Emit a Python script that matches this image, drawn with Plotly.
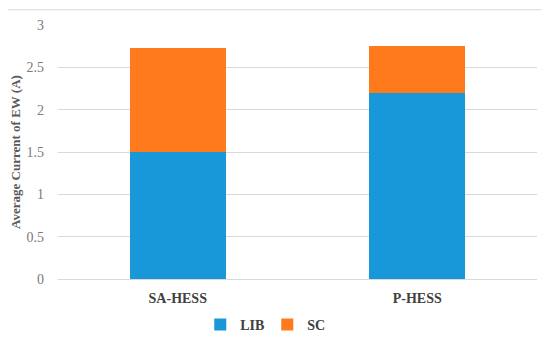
import plotly.graph_objects as go

categories = ["SA-HESS", "P-HESS"]
lib_values = [1.5, 2.2]
sc_values = [1.23, 0.55]
y_ticks = [0, 0.5, 1, 1.5, 2, 2.5, 3]
y_tick_labels = ["0", "0.5", "1", "1.5", "2", "2.5", "3"]

font_family = "Liberation Serif"

fig = go.Figure()
fig.add_trace(go.Bar(name="<b>LIB</b>", x=categories, y=lib_values,
                     marker=dict(color="#1897d9", line=dict(width=0))))
fig.add_trace(go.Bar(name="<b>SC</b>", x=categories, y=sc_values,
                     marker=dict(color="#ff7a1c", line=dict(width=0))))

fig.update_layout(
    barmode="stack",
    bargap=0.6,
    width=542, height=329,
    margin=dict(l=50, r=13, t=17, b=58, autoexpand=False),
    paper_bgcolor="white", plot_bgcolor="white",
    font=dict(family=font_family, color="#595959"),
    showlegend=True,
    legend=dict(orientation="h", xref="paper", x=0.297, xanchor="left",
                yref="paper", y=-0.181, yanchor="middle",
                font=dict(size=14, color="#404040", family=font_family),
                traceorder="normal", entrywidth=22, entrywidthmode="pixels",
                itemwidth=30),
    xaxis=dict(showgrid=False, showline=True, linecolor="#d9d9d9", linewidth=1,
               ticks="", tickfont=dict(size=14, color="#404040", family=font_family),
               tickprefix="<b>", ticksuffix="</b>", ticklabelstandoff=6),
    yaxis=dict(range=[0, 3], tickvals=y_ticks, ticktext=y_tick_labels,
               showgrid=True, gridcolor="#d9d9d9", gridwidth=1, zeroline=False,
               showline=False, ticks="", ticklabelstandoff=13,
               tickfont=dict(size=14, color="#7a7a7a", family=font_family),
               title=dict(text="<b>Average Current of EW (A)</b>", standoff=6,
                          font=dict(size=13, color="#595959", family=font_family))),
    shapes=[dict(type="line", xref="paper", yref="paper", x0=-0.104, x1=1.019,
                 y0=1.06, y1=1.06, line=dict(color="#d9d9d9", width=1))],
)

fig.write_html("out.html")
